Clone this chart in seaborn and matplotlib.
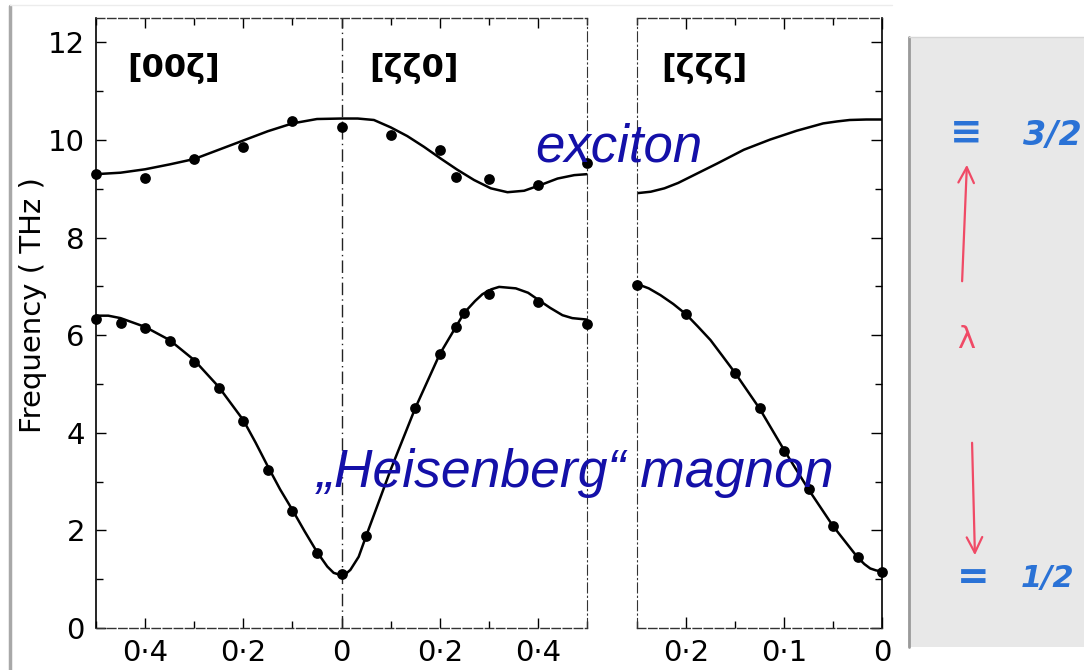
import matplotlib
matplotlib.use("Agg")
import numpy as np
import pandas as pd
import matplotlib.pyplot as plt
import seaborn as sns
from matplotlib.lines import Line2D
from matplotlib.patches import Rectangle, FancyArrowPatch
from matplotlib.ticker import MultipleLocator, FixedLocator, FuncFormatter

# ---------------------------------------------------------------------------
# data (frequency in THz)
# left panel: x < 0 is [00ζ] (ζ = -x), x > 0 is [ζζ0]
# ---------------------------------------------------------------------------
magnon_pts_x = [-0.5, -0.45, -0.4, -0.35, -0.3, -0.25, -0.2, -0.15, -0.1, -0.05, 0.0,
                0.05, 0.15, 0.2, 0.233, 0.25, 0.3, 0.4, 0.5]
magnon_pts_f = [6.33, 6.26, 6.15, 5.89, 5.46, 4.91, 4.24, 3.24, 2.40, 1.53, 1.10,
                1.89, 4.50, 5.61, 6.17, 6.45, 6.84, 6.69, 6.23]

magnon_fit_x = [-0.5, -0.475, -0.45, -0.4, -0.35, -0.3, -0.25, -0.2, -0.175, -0.15,
                -0.125, -0.1, -0.075, -0.05, -0.029, -0.016, 0.0, 0.01, 0.018, 0.035,
                0.05, 0.1, 0.15, 0.2, 0.25, 0.272, 0.287, 0.305, 0.321, 0.355, 0.38,
                0.403, 0.425, 0.45, 0.47, 0.49, 0.5]
magnon_fit_f = [6.40, 6.40, 6.35, 6.17, 5.90, 5.49, 4.94, 4.26, 3.80, 3.31,
                2.84, 2.42, 1.98, 1.56, 1.26, 1.13, 1.08, 1.12, 1.19, 1.46,
                1.88, 3.24, 4.50, 5.61, 6.46, 6.70, 6.84, 6.94, 6.99, 6.96, 6.87,
                6.71, 6.56, 6.41, 6.35, 6.33, 6.32]

exciton_pts_x = [-0.5, -0.4, -0.3, -0.2, -0.1, 0.0, 0.1, 0.2, 0.233, 0.3, 0.4, 0.5]
exciton_pts_f = [9.30, 9.23, 9.61, 9.85, 10.38, 10.26, 10.10, 9.80, 9.25, 9.20, 9.08, 9.52]

exciton_fit_x = [-0.5, -0.45, -0.4, -0.35, -0.3, -0.25, -0.2, -0.15, -0.1, -0.05, 0.0,
                 0.033, 0.066, 0.1, 0.134, 0.168, 0.202, 0.236, 0.27, 0.304, 0.338,
                 0.372, 0.406, 0.44, 0.474, 0.5]
exciton_fit_f = [9.30, 9.33, 9.40, 9.50, 9.61, 9.80, 9.99, 10.18, 10.34, 10.43, 10.44,
                 10.44, 10.41, 10.26, 10.08, 9.86, 9.62, 9.39, 9.18, 9.01, 8.93,
                 8.96, 9.08, 9.21, 9.28, 9.30]

# right panel: [ζζζ]
zzz_magnon_pts_x = [0.25, 0.2, 0.15, 0.125, 0.1, 0.075, 0.05, 0.025, 0.0]
zzz_magnon_pts_f = [7.03, 6.43, 5.22, 4.50, 3.63, 2.84, 2.09, 1.45, 1.14]
zzz_magnon_fit_x = [0.25, 0.238, 0.226, 0.213, 0.2, 0.188, 0.175, 0.163, 0.15, 0.125,
                    0.1, 0.075, 0.05, 0.025, 0.018, 0.012, 0.006, 0.0]
zzz_magnon_fit_f = [7.05, 6.96, 6.82, 6.64, 6.43, 6.18, 5.90, 5.58, 5.23, 4.50,
                    3.65, 2.84, 2.09, 1.45, 1.31, 1.22, 1.18, 1.16]
zzz_exciton_fit_x = [0.25, 0.236, 0.222, 0.208, 0.195, 0.168, 0.141, 0.114, 0.087,
                     0.06, 0.046, 0.033, 0.016, 0.0]
zzz_exciton_fit_f = [8.91, 8.94, 9.01, 9.12, 9.25, 9.52, 9.80, 10.01, 10.19,
                     10.34, 10.38, 10.41, 10.42, 10.42]

panel_labels = ["[00ζ]", "[ζζ0]", "[ζζζ]"]
left_xticks = [-0.4, -0.2, 0.0, 0.2, 0.4]
right_xticks = [0.2, 0.1, 0.0]
yticks = [0, 2, 4, 6, 8, 10, 12]

W, H = 1084, 670


def px(x, y):
    # pixel position (from top-left) -> figure fraction
    return x / W, 1 - y / H


def dot_fmt(v, pos=None):
    v = abs(v)
    if v < 1e-9:
        return "0"
    return f"{v:.1f}".replace(".", "·")


sns.set_style("white")
plt.rcParams["font.family"] = ["DejaVu Sans"]
plt.rcParams["text.color"] = "black"
plt.rcParams["xtick.color"] = "black"
plt.rcParams["ytick.color"] = "black"
plt.rcParams["axes.labelcolor"] = "black"

fig = plt.figure(figsize=(W / 100, H / 100), dpi=100)
ax1 = fig.add_axes([96 / W, 42 / H, 491 / W, 610 / H])
ax2 = fig.add_axes([637 / W, 42 / H, 245 / W, 610 / H])

line_kw = dict(color="black", linewidth=1.8, estimator=None, sort=False, legend=False)
dot_kw = dict(color="black", s=60, edgecolor="black", linewidth=0, legend=False,
              clip_on=False, zorder=5)

# --- left panel ([00ζ] | [ζζ0]) ---
sns.lineplot(x=magnon_fit_x, y=magnon_fit_f, ax=ax1, **line_kw)
sns.lineplot(x=exciton_fit_x, y=exciton_fit_f, ax=ax1, **line_kw)
sns.scatterplot(x=magnon_pts_x, y=magnon_pts_f, ax=ax1, **dot_kw)
sns.scatterplot(x=exciton_pts_x, y=exciton_pts_f, ax=ax1, **dot_kw)
ax1.axvline(0, color="#222222", linewidth=1.0, linestyle=(0, (9, 3, 1, 3)))

ax1.set_xlim(-0.5, 0.5)
ax1.set_ylim(0, 12.5)
ax1.xaxis.set_major_locator(FixedLocator(left_xticks))
ax1.xaxis.set_minor_locator(MultipleLocator(0.1))
ax1.xaxis.set_major_formatter(FuncFormatter(dot_fmt))
ax1.yaxis.set_major_locator(FixedLocator(yticks))
ax1.yaxis.set_minor_locator(MultipleLocator(1))
ax1.tick_params(axis="both", which="both", direction="in", color="black",
                top=True, bottom=True, left=True, right=False)
ax1.tick_params(axis="both", which="major", length=7, width=1, labelsize=21, pad=8,
                labelcolor="black")
ax1.tick_params(axis="both", which="minor", length=5, width=1)

# --- right panel ([ζζζ]) ---
sns.lineplot(x=zzz_magnon_fit_x, y=zzz_magnon_fit_f, ax=ax2, **line_kw)
sns.lineplot(x=zzz_exciton_fit_x, y=zzz_exciton_fit_f, ax=ax2, **line_kw)
sns.scatterplot(x=zzz_magnon_pts_x, y=zzz_magnon_pts_f, ax=ax2, **dot_kw)

ax2.set_xlim(0.25, 0)
ax2.set_ylim(0, 12.5)
ax2.xaxis.set_major_locator(FixedLocator(right_xticks))
ax2.xaxis.set_minor_locator(MultipleLocator(0.05))
ax2.xaxis.set_major_formatter(FuncFormatter(dot_fmt))
ax2.yaxis.set_major_locator(FixedLocator(yticks))
ax2.yaxis.set_minor_locator(MultipleLocator(1))
ax2.tick_params(axis="both", which="both", direction="in", color="black",
                top=True, bottom=True, left=False, right=True, labelleft=False)
ax2.tick_params(axis="both", which="major", length=8, width=1, labelsize=21, pad=8,
                labelcolor="black")
ax2.tick_params(axis="both", which="minor", length=5, width=1)

# scanned-looking frame: some spines broken
for ax in (ax1, ax2):
    for side in ("top", "bottom"):
        ax.spines[side].set_linestyle((0, (6, 2)))
        ax.spines[side].set_linewidth(1.0)
        ax.spines[side].set_color("#333333")
    ax.set_xlabel("")
    ax.set_ylabel("")
ax1.spines["left"].set_color("black")
ax1.spines["left"].set_linewidth(1.2)
ax1.spines["right"].set_linestyle((0, (9, 3, 1, 3)))
ax1.spines["right"].set_color("#333333")
ax2.spines["left"].set_linestyle((0, (9, 3, 1, 3)))
ax2.spines["left"].set_color("#333333")
ax2.spines["right"].set_color("black")
ax2.spines["right"].set_linewidth(1.2)

# panel labels
for xpix, lab in zip([174, 414, 704], panel_labels):
    fig.text(*px(xpix, 68), lab, ha="center", va="center", fontsize=23,
             fontweight="bold", color="black")

fig.text(*px(33, 305), "Frequency ( THz )", rotation=90, ha="center", va="center",
         fontsize=21, color="black")

blue = "#1410a8"
fig.text(*px(535, 161), "exciton", color=blue, fontsize=38, fontstyle="italic",
         family=["Liberation Sans", "DejaVu Sans"], ha="left", va="baseline")
fig.text(*px(317, 487), "\u201eHeisenberg\u201c magnon", color=blue, fontsize=38.5,
         fontstyle="italic", family=["Liberation Sans", "DejaVu Sans"],
         ha="left", va="baseline")

# outer frame of the pasted figure
fig.add_artist(Line2D([10 / W, 10 / W], [1 - 6 / H, 0], transform=fig.transFigure,
                      color="#a8a8a8", linewidth=2.5))
fig.add_artist(Line2D([10 / W, 892 / W], [1 - 5 / H, 1 - 5 / H], transform=fig.transFigure,
                      color="#ececec", linewidth=1.0))

# notebook snippet on the right
x0, y0 = px(908, 647)
fig.add_artist(Rectangle((x0, y0), (W - 908) / W, 610 / H, transform=fig.transFigure,
                         facecolor="#e8e8e8", edgecolor="none", zorder=0))
fig.add_artist(Line2D([909 / W, 909 / W], [y0, 1 - 37 / H], transform=fig.transFigure,
                      color="#9a9a9a", linewidth=2.0))
fig.add_artist(Line2D([909 / W, 1], [1 - 37 / H, 1 - 37 / H], transform=fig.transFigure,
                      color="#d6d6d6", linewidth=1.0))

pen_blue = "#2a72d6"
pen_red = "#f04a66"
fig.text(*px(966, 133), "≡", color=pen_blue, fontsize=28, ha="center", va="center",
         fontweight="bold")
fig.text(*px(1082, 135), "3/2", color=pen_blue, fontsize=24, ha="right", va="center",
         fontweight="bold", fontstyle="italic")
fig.text(*px(966, 340), "λ", color=pen_red, fontsize=22, ha="center", va="center")
fig.text(*px(973, 578), "=", color=pen_blue, fontsize=28, ha="center", va="center",
         fontweight="bold")
fig.text(*px(1047, 578), "1/2", color=pen_blue, fontsize=22, ha="center", va="center",
         fontweight="bold", fontstyle="italic")

fig.add_artist(FancyArrowPatch(px(962, 284), px(967, 162), transform=fig.transFigure,
                               arrowstyle="->", mutation_scale=28, color=pen_red,
                               linewidth=1.6))
fig.add_artist(FancyArrowPatch(px(972, 440), px(975, 558), transform=fig.transFigure,
                               arrowstyle="->", mutation_scale=28, color=pen_red,
                               linewidth=1.6))

fig.savefig("out.png", dpi=100)
